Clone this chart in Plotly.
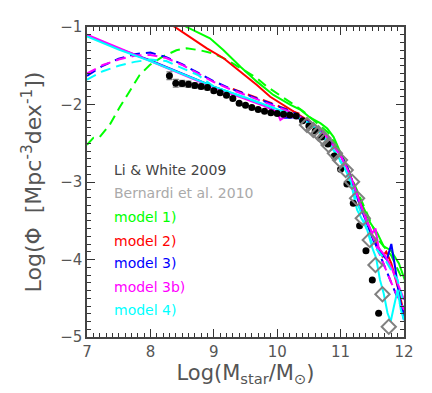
import plotly.graph_objects as go

# Li & White 2009 (black points with errors)
lw_x = [8.3, 8.4, 8.5, 8.6, 8.7, 8.8, 8.9, 9.0, 9.1, 9.2, 9.3, 9.4, 9.5, 9.6, 9.7, 9.8, 9.9,
        10.0, 10.1, 10.2, 10.3, 10.4, 10.5, 10.6, 10.7, 10.8, 10.9, 11.0, 11.1, 11.2, 11.3,
        11.4, 11.5, 11.6]
lw_y = [-1.628, -1.726, -1.729, -1.739, -1.755, -1.768, -1.781, -1.822, -1.849, -1.881,
        -1.923, -1.985, -2.009, -2.039, -2.065, -2.088, -2.106, -2.116, -2.125, -2.135,
        -2.148, -2.209, -2.277, -2.342, -2.419, -2.510, -2.665, -2.837, -3.026, -3.275,
        -3.564, -3.887, -4.265, -4.694]
lw_err = [0.05, 0.05, 0.04, 0.04, 0.035, 0.03, 0.03, 0.025, 0.02, 0.02, 0.02, 0.015, 0.015,
          0.015, 0.01, 0.01, 0.01, 0.01, 0.01, 0.01, 0.01, 0.01, 0.01, 0.01, 0.01, 0.01,
          0.01, 0.01, 0.01, 0.01, 0.01, 0.01, 0.01, 0.01]

# Bernardi et al. 2010 (grey open diamonds)
bern_x = [10.47, 10.57, 10.65, 10.73, 10.81, 10.91, 10.99, 11.08, 11.18, 11.26, 11.35,
          11.46, 11.55, 11.66, 11.76]
bern_y = [-2.265, -2.329, -2.372, -2.436, -2.523, -2.630, -2.716, -2.845, -2.996, -3.210,
          -3.468, -3.748, -4.071, -4.449, -4.867]

# model 1)
m1_x = [8.45, 8.57, 8.94, 9.15, 9.42, 9.68, 9.94, 10.21, 10.37, 10.52, 10.68, 10.79, 10.89,
        10.97, 11.05, 11.13, 11.21, 11.32, 11.40, 11.47, 11.58, 11.68, 11.79, 11.92, 12.05]
m1_y = [-0.93, -1.0, -1.146, -1.297, -1.512, -1.705, -1.877, -2.006, -2.07, -2.17, -2.24,
        -2.31, -2.42, -2.57, -2.72, -2.87, -3.06, -3.27, -3.40, -3.53, -3.66, -3.83, -3.88,
        -4.05, -4.35]
m1d_x = [7.0, 7.1, 7.2, 7.36, 7.52, 7.68, 7.83, 7.99, 8.2, 8.41, 8.57, 8.78, 8.99, 9.2, 9.42,
         9.68, 9.84, 10.05, 10.26, 10.4, 10.6, 10.8, 11.0, 11.2, 11.4, 11.6, 11.8, 12.0]
m1d_y = [-2.52, -2.43, -2.42, -2.26, -2.03, -1.81, -1.62, -1.49, -1.38, -1.30, -1.275, -1.30,
         -1.34, -1.42, -1.53, -1.66, -1.77, -1.88, -2.0, -2.08, -2.22, -2.36, -2.62, -3.0,
         -3.38, -3.75, -3.95, -4.3]

# model 2)
m2_x = [8.35, 8.62, 8.89, 9.15, 9.42, 9.68, 9.89, 10.10, 10.25, 10.4, 10.55, 10.7, 10.85,
        11.0, 11.1, 11.2, 11.3, 11.4, 11.5, 11.6, 11.66, 11.72, 11.8, 11.9, 12.0]
m2_y = [-0.98, -1.125, -1.275, -1.40, -1.577, -1.748, -1.90, -2.006, -2.08, -2.16, -2.24,
        -2.34, -2.47, -2.65, -2.80, -3.02, -3.25, -3.47, -3.68, -3.86, -3.96, -3.90, -4.05,
        -4.35, -4.69]
m2d_x = [9.3, 9.52, 9.73, 9.9, 10.05, 10.2, 10.35]
m2d_y = [-1.80, -1.865, -1.92, -1.98, -2.03, -2.07, -2.12]

# model 3)
m3_x = [7.0, 7.5, 8.0, 8.5, 9.0, 9.5, 9.8, 10.0, 10.1, 10.2, 10.3, 10.37, 10.52, 10.68,
        10.84, 11.0, 11.1, 11.18, 11.26, 11.37, 11.45, 11.53, 11.6, 11.67, 11.73, 11.8,
        11.86, 11.92, 12.0]
m3_y = [-1.11, -1.28, -1.43, -1.60, -1.77, -1.92, -2.01, -2.10, -2.17, -2.17, -2.16, -2.19,
        -2.24, -2.33, -2.46, -2.65, -2.80, -2.98, -3.20, -3.44, -3.60, -3.78, -3.85, -3.95,
        -4.00, -3.80, -4.10, -4.45, -4.78]
m3d_x = [7.0, 7.25, 7.5, 7.75, 8.0, 8.25, 8.5, 8.75, 9.0, 9.25, 9.5, 9.75, 10.0, 10.25,
         10.4, 10.57, 10.73, 10.9, 11.0, 11.1, 11.2, 11.3, 11.4, 11.5, 11.6, 11.7, 11.8,
         11.9, 12.0]
m3d_y = [-1.63, -1.50, -1.41, -1.35, -1.33, -1.39, -1.48, -1.59, -1.70, -1.79, -1.87, -1.95,
         -2.02, -2.10, -2.17, -2.26, -2.37, -2.52, -2.66, -2.82, -3.02, -3.25, -3.48, -3.70,
         -3.90, -4.10, -4.30, -4.50, -4.70]

# model 3b)
m3b_x = [7.0, 7.5, 8.0, 8.5, 9.0, 9.5, 9.8, 10.0, 10.05, 10.15, 10.3, 10.45, 10.6, 10.75,
         10.9, 11.0, 11.1, 11.2, 11.3, 11.4, 11.5, 11.55, 11.6, 11.7, 11.8, 11.9, 12.0]
m3b_y = [-1.10, -1.27, -1.44, -1.61, -1.78, -1.93, -2.02, -2.10, -2.20, -2.14, -2.17, -2.22,
         -2.30, -2.40, -2.55, -2.66, -2.82, -3.02, -3.26, -3.48, -3.66, -3.60, -3.85, -3.95,
         -4.10, -4.30, -4.52]
m3bd_x = [7.0, 7.25, 7.5, 7.75, 8.0, 8.25, 8.5, 8.75, 9.0, 9.25, 9.5, 9.75, 10.0, 10.25,
          10.4, 10.6, 10.8, 11.0, 11.2, 11.4, 11.6, 11.8, 12.0]
m3bd_y = [-1.60, -1.49, -1.42, -1.37, -1.36, -1.40, -1.49, -1.60, -1.71, -1.80, -1.88, -1.96,
          -2.03, -2.11, -2.18, -2.28, -2.42, -2.66, -3.03, -3.48, -3.90, -4.30, -4.65]

# model 4)
m4_x = [7.0, 7.5, 8.0, 8.5, 9.0, 9.5, 9.8, 10.0, 10.2, 10.35, 10.5, 10.65, 10.8, 10.95,
        11.05, 11.15, 11.26, 11.35, 11.42, 11.5, 11.56, 11.62, 11.68, 11.74, 11.79, 11.84,
        11.9, 11.95, 12.0]
m4_y = [-1.12, -1.29, -1.44, -1.60, -1.77, -1.91, -2.0, -2.06, -2.12, -2.18, -2.24, -2.34,
        -2.48, -2.66, -2.80, -2.97, -3.36, -3.50, -3.62, -3.85, -3.98, -4.26, -4.44, -4.69,
        -4.80, -4.61, -4.39, -4.65, -4.78]
m4d_x = [7.0, 7.25, 7.5, 7.75, 8.0, 8.25, 8.5, 8.75, 9.0, 9.5, 10.0, 10.3, 10.6, 10.9, 11.1,
         11.3, 11.5, 11.7, 11.8, 11.9, 12.0]
m4d_y = [-1.68, -1.57, -1.50, -1.45, -1.42, -1.44, -1.53, -1.62, -1.77, -1.91, -2.06, -2.16,
         -2.30, -2.60, -2.88, -3.35, -3.80, -4.00, -4.14, -4.26, -4.60]

labels = ["Li & White 2009", "Bernardi et al. 2010", "model 1)", "model 2)", "model 3)",
          "model 3b)", "model 4)"]
label_colors = ["#444444", "#aaaaaa", "#00ff00", "#ff0000", "#0000ff", "#ff00ff", "#00ffff"]
label_y = [-2.845, -3.14, -3.448, -3.761, -4.049, -4.351, -4.652]

x_range = [7, 12]
y_range = [-5, -1]

fig = go.Figure()

dash = "10px,6px"
models = [
    (m1d_x, m1d_y, "#00ff00", dash), (m1_x, m1_y, "#00ff00", "solid"),
    (m2d_x, m2d_y, "#ff0000", dash), (m2_x, m2_y, "#ff0000", "solid"),
    (m3d_x, m3d_y, "#0000ff", dash), (m3_x, m3_y, "#0000ff", "solid"),
    (m3bd_x, m3bd_y, "#ff00ff", dash), (m3b_x, m3b_y, "#ff00ff", "solid"),
    (m4d_x, m4d_y, "#00ffff", dash), (m4_x, m4_y, "#00ffff", "solid"),
]
for xs, ys, c, d in models:
    fig.add_trace(go.Scatter(x=xs, y=ys, mode="lines", line=dict(color=c, width=2, dash=d),
                             showlegend=False))

# data points sit on an overlay subplot that carries the minor ticks
fig.add_trace(go.Scatter(x=lw_x, y=lw_y, mode="markers", xaxis="x2", yaxis="y2",
                         marker=dict(color="black", size=7),
                         error_y=dict(type="data", array=lw_err, color="#777777",
                                      thickness=1.2, width=3),
                         showlegend=False))
fig.add_trace(go.Scatter(x=bern_x, y=bern_y, mode="markers", xaxis="x2", yaxis="y2",
                         marker=dict(symbol="diamond-open", color="#808080", size=11,
                                     line=dict(width=2)),
                         showlegend=False))

for t, c, y in zip(labels, label_colors, label_y):
    fig.add_annotation(x=7.4, y=y, text=t, showarrow=False, xanchor="left",
                       font=dict(color=c, size=14, family="DejaVu Sans"))

major = dict(ticks="inside", ticklen=8, tickwidth=1.2, tickcolor="#333333",
             showline=True, linecolor="#444444", linewidth=1.5, mirror="ticks",
             showgrid=False, zeroline=False, automargin=False,
             tickfont=dict(size=15, color="#555555", family="DejaVu Sans"))
minor = dict(ticks="inside", ticklen=4, tickwidth=1, tickcolor="#333333", dtick=0.1,
             tick0=7, showline=False, mirror="ticks", showgrid=False, zeroline=False,
             showticklabels=False, automargin=False)

# the page body adds an 8px offset, so the figure is a bit smaller than the window
fig.update_layout(
    width=424, height=385,
    margin=dict(l=79, r=28, t=19, b=56),
    plot_bgcolor="white", paper_bgcolor="white",
    xaxis=dict(range=x_range, dtick=1,
               title=dict(text="Log(M<sub>star</sub>/M<sub>\u2299</sub>)",
                          font=dict(size=21, color="#555555", family="DejaVu Sans"),
                          standoff=2),
               **major),
    yaxis=dict(range=y_range, dtick=1,
               title=dict(text="Log(\u03a6  [Mpc<sup>-3</sup>dex<sup>-1</sup>])",
                          font=dict(size=22, color="#555555", family="DejaVu Sans"),
                          standoff=12),
               **major),
    xaxis2=dict(range=x_range, overlaying="x", side="bottom", anchor="y2", **minor),
    yaxis2=dict(range=y_range, overlaying="y", side="left", anchor="x2", **minor),
)

fig.write_html("out.html")
